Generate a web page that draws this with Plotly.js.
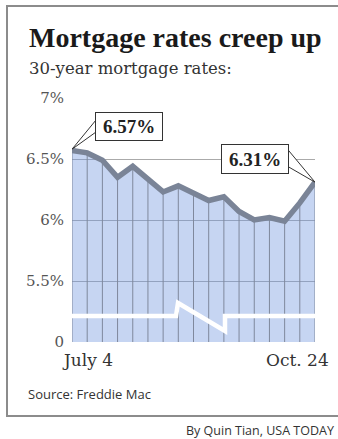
<!DOCTYPE html>
<html>
<head>
<meta charset="utf-8">
<script src="https://cdn.plot.ly/plotly-3.0.1.min.js"></script>
<style>
  html, body { margin: 0; padding: 0; background: #fff; }
  #wrap { position: relative; width: 338px; height: 439px; overflow: hidden; }
  #chart { position: absolute; left: 0; top: 0; width: 338px; height: 439px; }
  #frame { position: absolute; left: 6px; top: 5px; width: 340px; height: 408px;
           border: 2px solid #8c8c8c; pointer-events: none; }
</style>
</head>
<body>
<div id="wrap">
  <div id="chart"></div>
  <div id="frame"></div>
</div>
<script>
// ---- data ----
const weeks = ['July 4','July 11','July 18','July 25','Aug. 1','Aug. 8','Aug. 15','Aug. 22','Aug. 29',
               'Sept. 5','Sept. 12','Sept. 19','Sept. 26','Oct. 3','Oct. 10','Oct. 17','Oct. 24'];
const rates = [6.57, 6.55, 6.49, 6.35, 6.44, 6.33, 6.23, 6.28, 6.22, 6.16, 6.19, 6.07, 6.00, 6.02, 5.99, 6.14, 6.31];
const tickVals = [5, 5.5, 6, 6.5, 7];
const tickText = ['0', '5.5%', '6%', '6.5%', '7%'];
const xLabels = ['July 4', 'Oct. 24'];
const title = 'Mortgage rates creep up';
const subtitle = '30-year mortgage rates:';
const source = 'Source: Freddie Mac';
const credit = 'By Quin Tian, USA TODAY';

// ---- geometry helpers (plot area: x 72..315, y 98..342 px) ----
const L = 72, R = 315, T = 98, B = 342, W = 338, H = 439;
const idx = weeks.map((_, i) => i);
const n = weeks.length - 1;
const px = v => (v - L) / (R - L);          // pixel -> paper x
const py = v => (B - v) / (B - T);          // pixel -> paper y
const dx = v => (v - L) / ((R - L) / n);    // pixel -> data x
const dy = v => 5 + (B - v) / ((B - T) / 2);// pixel -> data y

const baseY = tickVals[0];

// vertical grid lines under the curve
const vx = [], vy = [];
idx.forEach((i, k) => { vx.push(i, i, null); vy.push(baseY, rates[k], null); });

const traces = [
  { x: idx, y: rates, mode: 'lines', fill: 'tozeroy', fillcolor: 'rgba(112,150,222,0.40)',
    line: { width: 0, color: 'rgba(0,0,0,0)' }, hoverinfo: 'skip' },
  { x: vx, y: vy, mode: 'lines', line: { width: 1, color: '#7f889c' }, hoverinfo: 'skip' },
  { x: idx, y: rates, mode: 'lines', line: { width: 5.5, color: '#7a8497' }, hoverinfo: 'skip' }
];

const first = rates[0], last = rates[rates.length - 1];

const shapes = [
  // axis break marker
  { type: 'path', layer: 'above', xref: 'x', yref: 'y',
    path: `M ${dx(70)},${dy(316)} L ${dx(176)},${dy(316)} L ${dx(178)},${dy(303)} L ${dx(225)},${dy(331)} L ${dx(225)},${dy(316)} L ${dx(318)},${dy(316)}`,
    line: { color: '#ffffff', width: 4.5 }, fillcolor: 'rgba(0,0,0,0)' },
  // callout tails
  { type: 'path', layer: 'above', xref: 'x', yref: 'y',
    path: `M ${dx(96)},${dy(120)} L 0,${first + 0.01} L ${dx(96)},${dy(132)} Z`,
    line: { color: '#333', width: 1 }, fillcolor: '#ffffff' },
  { type: 'path', layer: 'above', xref: 'x', yref: 'y',
    path: `M ${dx(284)},${dy(145)} L ${n},${last} L ${dx(287)},${dy(166)} Z`,
    line: { color: '#333', width: 1 }, fillcolor: '#ffffff' }
];

const serif = 'DejaVu Serif';
const annotations = [
  { text: '<b>' + title + '</b>', xref: 'paper', yref: 'paper', x: px(27), y: py(38), xanchor: 'left', yanchor: 'middle',
    showarrow: false, font: { family: 'Liberation Serif', size: 28, color: '#1a1a1a' } },
  { text: subtitle, xref: 'paper', yref: 'paper', x: px(27), y: py(69), xanchor: 'left', yanchor: 'middle',
    showarrow: false, font: { family: serif, size: 16.5, color: '#333' } },
  { text: xLabels[0], xref: 'paper', yref: 'paper', x: px(60), y: py(360), xanchor: 'left', yanchor: 'middle',
    showarrow: false, font: { family: serif, size: 17, color: '#333' } },
  { text: xLabels[1], xref: 'paper', yref: 'paper', x: px(331), y: py(360), xanchor: 'right', yanchor: 'middle',
    showarrow: false, font: { family: serif, size: 17, color: '#333' } },
  { text: source, xref: 'paper', yref: 'paper', x: px(26), y: py(394), xanchor: 'left', yanchor: 'middle',
    showarrow: false, font: { family: 'Open Sans', size: 13, color: '#333' } },
  { text: credit, xref: 'paper', yref: 'paper', x: px(336), y: py(430), xanchor: 'right', yanchor: 'middle',
    showarrow: false, font: { family: 'Open Sans', size: 12.5, color: '#333' } },
  { text: '<b>' + first.toFixed(2) + '%</b>', xref: 'paper', yref: 'paper', x: px(129), y: py(126),
    xanchor: 'center', yanchor: 'middle', showarrow: false, width: 62, height: 23, borderpad: 2,
    bgcolor: '#ffffff', bordercolor: '#333', borderwidth: 1,
    font: { family: 'Liberation Serif', size: 19, color: '#222' } },
  { text: '<b>' + last.toFixed(2) + '%</b>', xref: 'paper', yref: 'paper', x: px(255), y: py(159),
    xanchor: 'center', yanchor: 'middle', showarrow: false, width: 62, height: 24, borderpad: 2,
    bgcolor: '#ffffff', bordercolor: '#333', borderwidth: 1,
    font: { family: 'Liberation Serif', size: 19, color: '#222' } }
];

const layout = {
  width: W, height: H,
  margin: { l: L, r: W - R, t: T, b: H - B, pad: 0 },
  paper_bgcolor: '#ffffff', plot_bgcolor: '#ffffff',
  showlegend: false,
  xaxis: { range: [0, n], showgrid: false, zeroline: false, showticklabels: false, ticks: '', showline: false, fixedrange: true },
  yaxis: { range: [baseY, 7], tickvals: tickVals, ticktext: tickText, showgrid: true, gridcolor: '#aaaaaa', gridwidth: 1,
           zeroline: false, ticks: '', showline: false, ticklabelstandoff: 7,
           tickfont: { family: serif, size: 15, color: '#555' }, fixedrange: true },
  shapes: shapes,
  annotations: annotations
};

Plotly.newPlot('chart', traces, layout, { staticPlot: true, displayModeBar: false });
</script>
</body>
</html>
